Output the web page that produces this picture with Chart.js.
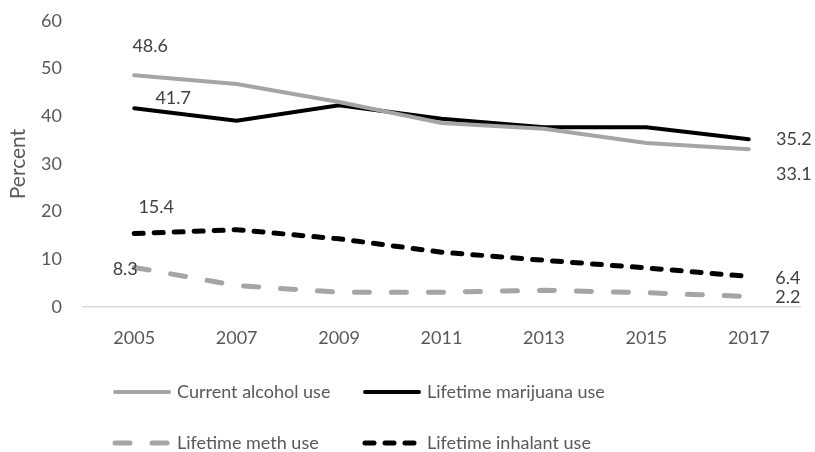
<!DOCTYPE html>
<html>
<head>
<meta charset="utf-8">
<script src="https://cdn.jsdelivr.net/npm/chart.js@4"></script>
<style>
  html, body { margin: 0; padding: 0; background: #fff; }
  #wrap { width: 815px; height: 452px; }
</style>
</head>
<body>
<div id="wrap"><canvas id="myChart" width="815" height="452"></canvas></div>
<script>
const years = ["2005", "2007", "2009", "2011", "2013", "2015", "2017"];
const alcohol = [48.6, 46.8, 43.0, 38.6, 37.4, 34.4, 33.1];
const marijuana = [41.7, 39.1, 42.3, 39.5, 37.7, 37.7, 35.2];
const meth = [8.3, 4.5, 3.1, 3.1, 3.5, 3.0, 2.2];
const inhalant = [15.4, 16.2, 14.3, 11.5, 9.8, 8.2, 6.4];
const yTicks = [0, 10, 20, 30, 40, 50, 60];

const textColor = "#595959";
const fontFamily = "Lato, 'Noto Sans', sans-serif";

Chart.defaults.font.family = fontFamily;
Chart.defaults.font.size = 18;
Chart.defaults.color = textColor;

// where to put the first / last value labels, relative to the point
const labelOffsets = [
    { first: [16, -29], last: [45, 25] },
    { first: [39, -10], last: [45, 0] },
    { first: [-9, 2], last: [39, 1] },
    { first: [22, -26], last: [39, 2] },
];

const endLabels = {
    id: "endLabels",
    afterDatasetsDraw(chart) {
        const ctx = chart.ctx;
        ctx.save();
        ctx.font = "18px " + fontFamily;
        ctx.fillStyle = "#404040";
        ctx.textAlign = "center";
        ctx.textBaseline = "middle";
        chart.data.datasets.forEach((ds, i) => {
            const pts = chart.getDatasetMeta(i).data;
            const off = labelOffsets[i];
            const a = pts[0], b = pts[pts.length - 1];
            ctx.fillText(ds.data[0].toFixed(1), a.x + off.first[0], a.y + off.first[1]);
            ctx.fillText(ds.data[ds.data.length - 1].toFixed(1), b.x + off.last[0], b.y + off.last[1]);
        });
        ctx.restore();
    },
};

const legendPos = [[113, 392], [363, 392], [113, 443], [363, 443]];

const customLegend = {
    id: "customLegend",
    afterDraw(chart) {
        const ctx = chart.ctx;
        ctx.save();
        chart.data.datasets.forEach((ds, i) => {
            const [x, y] = legendPos[i];
            ctx.strokeStyle = ds.borderColor;
            ctx.lineWidth = ds.borderWidth;
            ctx.lineCap = ds.borderCapStyle || "butt";
            ctx.setLineDash(ds.borderDash || []);
            ctx.beginPath();
            ctx.moveTo(x + 2, y);
            ctx.lineTo(x + 56, y);
            ctx.stroke();
            ctx.setLineDash([]);
            ctx.fillStyle = textColor;
            ctx.font = "18px " + fontFamily;
            ctx.textBaseline = "middle";
            ctx.textAlign = "left";
            ctx.fillText(ds.label, x + 64, y);
        });
        ctx.restore();
    },
};

new Chart(document.getElementById("myChart"), {
    type: "line",
    data: {
        labels: years,
        datasets: [
            {
                label: "Current alcohol use",
                data: alcohol,
                borderColor: "#a5a5a5",
                borderWidth: 4,
                borderCapStyle: "round",
                pointRadius: 0,
            },
            {
                label: "Lifetime marijuana use",
                data: marijuana,
                borderColor: "#000000",
                borderWidth: 4,
                borderCapStyle: "round",
                pointRadius: 0,
            },
            {
                label: "Lifetime meth use",
                data: meth,
                borderColor: "#a5a5a5",
                borderWidth: 5,
                borderDash: [15, 22],
                borderCapStyle: "round",
                pointRadius: 0,
            },
            {
                label: "Lifetime inhalant use",
                data: inhalant,
                borderColor: "#000000",
                borderWidth: 5,
                borderDash: [9, 11],
                borderCapStyle: "round",
                pointRadius: 0,
            },
        ],
    },
    options: {
        responsive: false,
        animation: false,
        layout: { padding: { top: 21, right: 15, left: 0, bottom: 107 } },
        plugins: {
            legend: { display: false },
            tooltip: { enabled: false },
        },
        scales: {
            x: {
                offset: true,
                grid: { display: false, drawTicks: false, offset: true },
                border: { display: true, color: "#d9d9d9", width: 1.5 },
                ticks: { padding: 20, font: { size: 18, family: fontFamily }, color: textColor },
                afterFit(scale) { scale.height = 38; },
            },
            y: {
                min: 0,
                max: 60,
                afterBuildTicks(scale) { scale.ticks = yTicks.map(v => ({ value: v })); },
                grid: { display: false, drawTicks: false },
                border: { display: false },
                ticks: { padding: 21, font: { size: 18, family: fontFamily }, color: textColor },
                title: {
                    display: true,
                    text: "Percent",
                    font: { size: 21, family: fontFamily },
                    color: textColor,
                    padding: { top: 6, bottom: 0 },
                },
                afterFit(scale) {
                    scale.width = 83;
                    scale.paddingTop = 0;
                    scale.paddingBottom = 0;
                },
            },
        },
    },
    plugins: [endLabels, customLegend],
});
</script>
</body>
</html>
